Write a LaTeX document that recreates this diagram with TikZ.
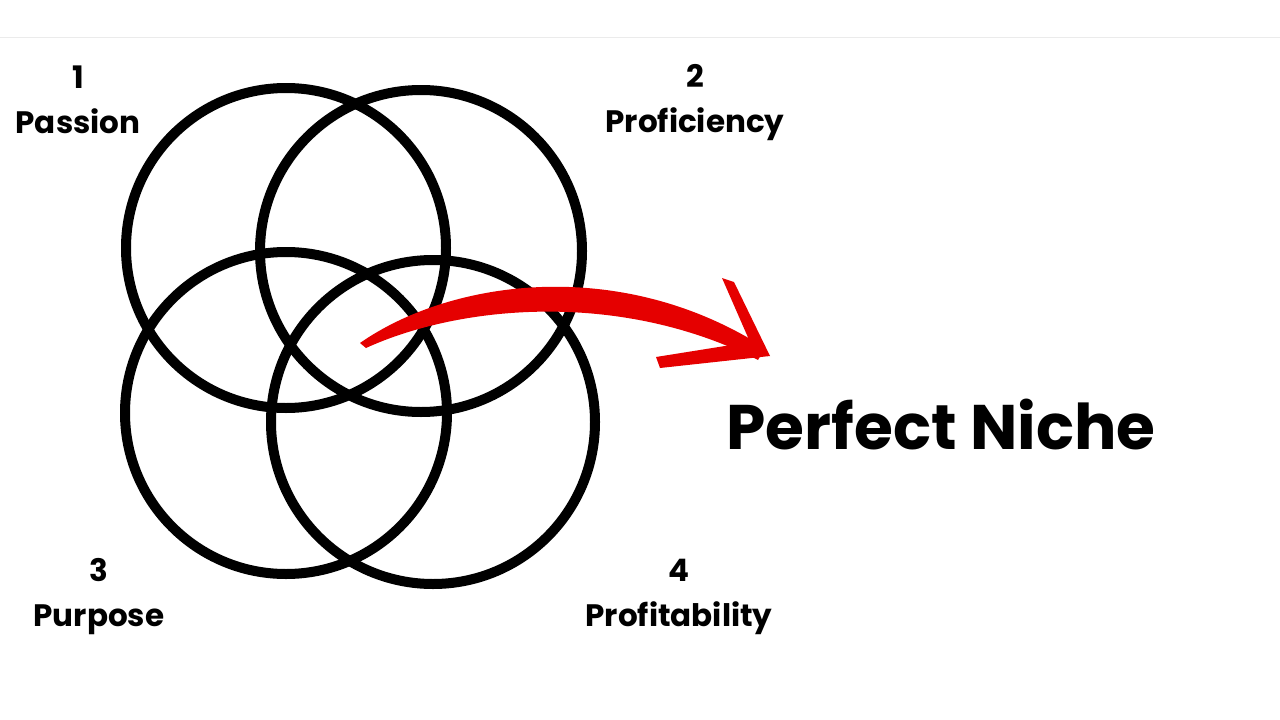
\documentclass[tikz,border=0pt]{standalone}
\usepackage{fontspec}
\setmainfont{Poppins}[UprightFont=* Bold]
\begin{document}
\begin{tikzpicture}[x=1pt,y=-1pt,
  ring/.style={draw=black,line width=10pt},
  lab/.style={font=\fontsize{31}{45}\selectfont,align=center,inner sep=0pt}]
\useasboundingbox (0,0) rectangle (1280,720);
\fill[white] (0,0) rectangle (1280,720);
\draw[black!8,line width=1pt] (0,37) -- (1280,37);
\draw[ring] (286,248) circle (160);
\draw[ring] (421,251) circle (161);
\draw[ring] (286,413) circle (161);
\draw[ring] (433,422) circle (162);
\node[lab] (l1) at (78,100) {1\\Passion};
\node[lab] (l2) at (695,103) {2\\Proficiency};
\node[lab] (l3) at (99,597) {3\\Purpose};
\node[lab] (l4) at (679,597) {4\\Profitability};
\node[font=\fontsize{63}{70}\selectfont,inner sep=0pt] (pn) at (941,425) {Perfect Niche};
\fill[red!90!black] (360,343) .. controls (450,280) and (620,255) .. (765,348)
  -- (758,360) .. controls (620,290) and (460,305) .. (366,348) -- cycle;
\fill[red!90!black] (722,278) -- (734,282) -- (770,356) -- (660,368) -- (656,357) -- (750,342) -- cycle;
\end{tikzpicture}
\end{document}
